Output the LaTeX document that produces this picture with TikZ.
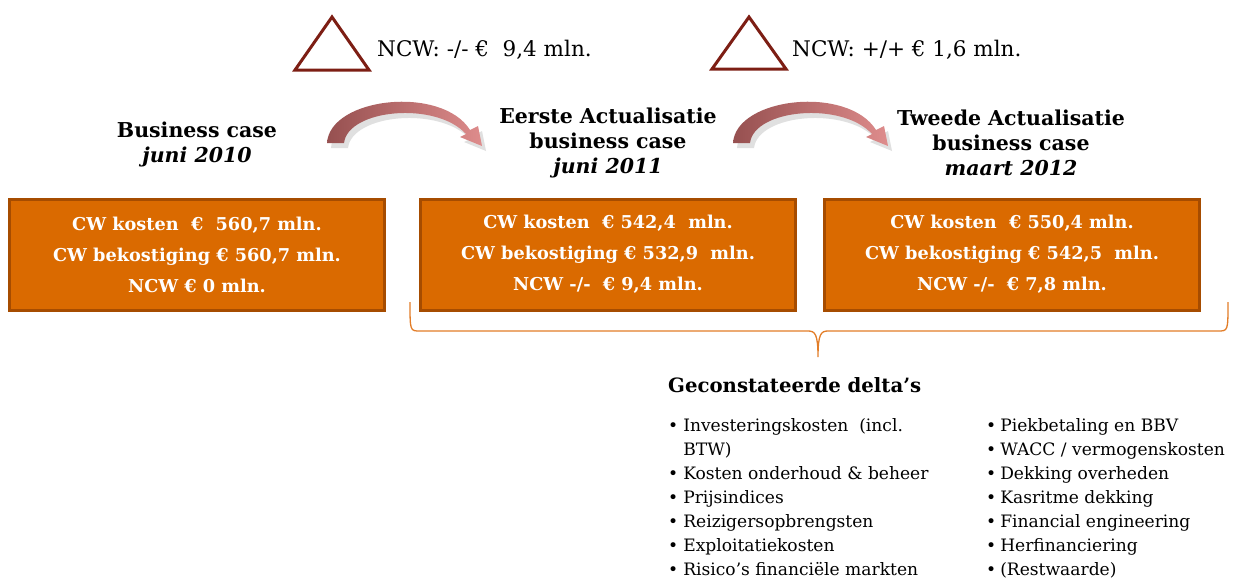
\documentclass[tikz,border=0pt]{standalone}
\usepackage{fontspec}
\setmainfont{DejaVu Serif}
\definecolor{boxfill}{RGB}{218,106,0}
\definecolor{boxedge}{RGB}{166,76,0}
\definecolor{tri}{RGB}{125,30,20}
\definecolor{brace}{RGB}{226,125,40}
\definecolor{arrdark}{RGB}{150,80,80}
\definecolor{arrlight}{RGB}{240,196,196}
\definecolor{arrright}{RGB}{222,140,140}
\tikzset{
  stagebox/.style={draw=boxedge, line width=3pt, fill=boxfill, minimum width=375pt, minimum height=111pt,
    inner sep=0pt, align=center, text=white, font=\bfseries\fontsize{17.7}{31}\selectfont},
  header/.style={align=center, font=\bfseries\fontsize{20.5}{25}\selectfont, inner sep=0pt},
  ncw/.style={anchor=west, font=\fontsize{21.5}{24}\selectfont, inner sep=0pt},
  warn/.style={draw=tri, line width=3pt, line join=miter},
  bendarrow/.style={shading=axis, left color=arrdark, middle color=arrlight, right color=arrright, draw=none},
  bendshadow/.style={fill=black!30, opacity=0.4, draw=none},
  bracket/.style={draw=brace, line width=1.3pt},
  deltalist/.style={anchor=north west, inner sep=0pt, align=left, font=\fontsize{17.1}{24}\selectfont},
}
\begin{document}
\begin{tikzpicture}[x=1pt,y=-1pt]
\useasboundingbox (0,0) rectangle (1242,579);
% triangles
\draw[warn] (332,17) -- (369,70) -- (295,70) -- cycle;
\node[ncw] (n1) at (377,50) {NCW: -/- €\ \ 9,4 mln.};
\draw[warn] (749,17) -- (786,69) -- (712,69) -- cycle;
\node[ncw] (n2) at (792,50) {NCW: +/+ € 1,6 mln.};
% headers
\node[header] (h1) at (197,144) {Business case\\\textit{juni 2010}};
\node[header] (h2) at (608,143) {Eerste Actualisatie\\business case\\\textit{juni 2011}};
\node[header] (h3) at (1011,143) {Tweede Actualisatie\\business case\\\textit{maart 2012}};
% curved arrows
\foreach \dx in {0,406}{
  \begin{scope}[xshift=\dx]
  \fill[bendshadow] (331,148) .. controls (334,102) and (446,90) .. (474,135)
     -- (482,131) -- (486,151) -- (464,142) -- (470,139)
     .. controls (440,106) and (352,114) .. (348,148) -- cycle;
  \path[bendarrow] (327,143) .. controls (330,97) and (442,85) .. (470,130)
     -- (478,126) -- (482,146) -- (460,137) -- (466,134)
     .. controls (436,101) and (348,109) .. (344,143) -- cycle;
  \end{scope}
}
% boxes
\node[stagebox] (b1) at (197,255) {CW kosten\ \ €\ \ 560,7 mln.\\CW bekostiging € 560,7 mln.\\NCW € 0 mln.};
\node[stagebox] (b2) at (608,254.5) {CW kosten\ \ € 542,4\ \ mln.\\CW bekostiging € 532,9\ \ mln.\\NCW -/-\ \ € 9,4 mln.};
\node[stagebox] (b3) at (1012,254.5) {CW kosten\ \ € 550,4 mln.\\CW bekostiging € 542,5\ \ mln.\\NCW -/-\ \ € 7,8 mln.};
% brace
\coordinate (bl) at (410,302);
\coordinate (br) at (1228,302);
\coordinate (bc) at (818,357);
\draw[bracket] (bl) .. controls (410,331) .. (420,331) -- (808,331)
   .. controls (815,331) and (818,334) .. (bc)
   .. controls (818,334) and (821,331) .. (828,331) -- (1218,331)
   .. controls (1228,331) .. (br);
% delta list
\node[anchor=west, inner sep=0pt, font=\bfseries\fontsize{19.7}{24}\selectfont] (dt) at (668,385) {Geconstateerde delta’s};
\node[deltalist] (l1) at (668,414) {\begin{tabular}{@{}l@{\hspace{5pt}}l@{}}
•&Investeringskosten\ \ (incl.\\
&BTW)\\
•&Kosten onderhoud \& beheer\\
•&Prijsindices\\
•&Reizigersopbrengsten\\
•&Exploitatiekosten\\
•&Risico’s financiële markten
\end{tabular}};
\node[deltalist] (l2) at (986,414) {\begin{tabular}{@{}l@{\hspace{4pt}}l@{}}
•&Piekbetaling en BBV\\
•&WACC / vermogenskosten\\
•&Dekking overheden\\
•&Kasritme dekking\\
•&Financial engineering\\
•&Herfinanciering\\
•&(Restwaarde)
\end{tabular}};
\end{tikzpicture}
\end{document}
